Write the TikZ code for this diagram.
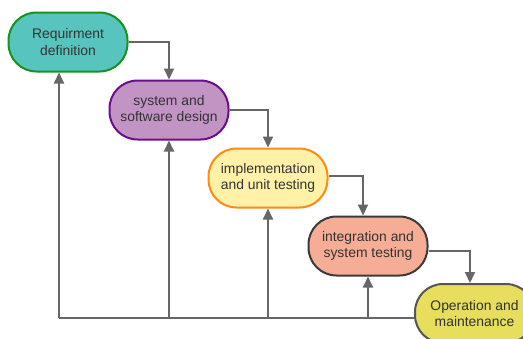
\documentclass[tikz,border=0pt]{standalone}
\usepackage{fontspec}
\setmainfont{Liberation Sans}
\usetikzlibrary{arrows.meta,calc}
\definecolor{txt}{HTML}{333333}
\definecolor{ln}{HTML}{666666}
\definecolor{f1}{HTML}{57C5BD}
\definecolor{d1}{HTML}{17921E}
\definecolor{f2}{HTML}{C194C4}
\definecolor{d2}{HTML}{6C0E8C}
\definecolor{f3}{HTML}{FFF1A8}
\definecolor{d3}{HTML}{FF8A14}
\definecolor{f4}{HTML}{F6AD96}
\definecolor{d4}{HTML}{3A3A3A}
\definecolor{f5}{HTML}{E6DE5C}
\definecolor{d5}{HTML}{555555}
\tikzset{
  phase/.style={draw, line width=2pt, rounded corners=28pt, minimum width=119pt, minimum height=59pt,
    align=center, text=txt, font=\fontsize{13.9}{16.7}\selectfont, inner sep=0pt},
  conn/.style={draw=ln, line width=2pt, -{Triangle[width=10pt,length=11pt]}},
  plain/.style={draw=ln, line width=2pt}
}
\begin{document}
\begin{tikzpicture}[x=1pt,y=-1pt]
\useasboundingbox (0,0) rectangle (523,338);
\clip (0,0) rectangle (523,338);
\fill[white] (0,0) rectangle (523,338);
\node[phase, fill=f1, draw=d1] (b1) at (68,42) {Requirment\\definition};
\node[phase, fill=f2, draw=d2] (b2) at (169,110) {system and\\software design};
\node[phase, fill=f3, draw=d3] (b3) at (268,178) {implementation\\and unit testing};
\node[phase, fill=f4, draw=d4] (b4) at (368,246) {integration and\\system testing};
\node[phase, fill=f5, draw=d5] (b5) at (474.5,313.5) {Operation and\\maintenance};
\coordinate (bl) at (59,318);
\coordinate (c2) at (169,318);
\coordinate (c3) at (268,318);
\coordinate (c4) at (368,318);
\draw[conn] (b1.east) -| (b2.north);
\draw[conn] (b2.east) -| (b3.north);
\draw[conn] ([yshift=2pt]b3.east) -| ([xshift=-5pt]b4.north);
\draw[conn] ([yshift=-5pt]b4.east) -| ([xshift=-4.5pt]b5.north);
\draw[plain] (bl) -- (bl -| b5.west);
\draw[conn] (bl) -- (bl |- b1.south);
\draw[conn] (c2) -- (c2 |- b2.south);
\draw[conn] (c3) -- (c3 |- b3.south);
\draw[conn] (c4) -- (c4 |- b4.south);
\end{tikzpicture}
\end{document}
